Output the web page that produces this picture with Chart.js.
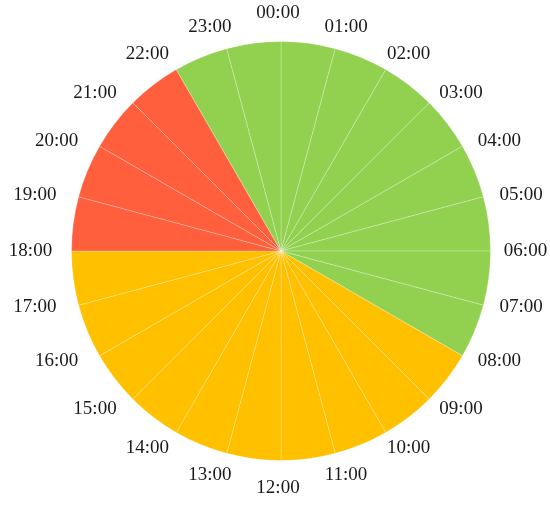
<!DOCTYPE html>
<html>
<head>
<meta charset="utf-8">
<script src="https://cdn.jsdelivr.net/npm/chart.js@4"></script>
<style>
  html,body{margin:0;padding:0;background:#fff;}
  #wrap{width:550px;height:506px;}
</style>
</head>
<body>
<div id="wrap"><canvas id="c"></canvas></div>
<script>
const hours=["00:00","01:00","02:00","03:00","04:00","05:00","06:00","07:00","08:00","09:00","10:00","11:00",
  "12:00","13:00","14:00","15:00","16:00","17:00","18:00","19:00","20:00","21:00","22:00","23:00"];
const values=[1,1,1,1,1,1,1,1,1,1,1,1,1,1,1,1,1,1,1,1,1,1,1,1];
const period=["off","off","off","off","off","off","off","off","mid","mid","mid","mid",
  "mid","mid","mid","mid","mid","mid","peak","peak","peak","peak","off","off"];
const periodColors={off:"#92D050",mid:"#FFC000",peak:"#FF5F3C"};

// labels sit at the start edge of each slice; pushed wider sideways than up/down
const hourLabels={
  id:"hourLabels",
  afterDraw(chart){
    const ctx=chart.ctx;
    ctx.save();
    ctx.font="19px 'Liberation Serif', serif";
    ctx.fillStyle="#1a1a1a";
    ctx.textAlign="center";
    ctx.textBaseline="middle";
    chart.getDatasetMeta(0).data.forEach((arc,i)=>{
      const ux=Math.cos(arc.startAngle), uy=Math.sin(arc.startAngle);
      const R=arc.outerRadius, s2=Math.abs(2*ux*uy);
      const x=arc.x-3+(R+38)*ux+8*s2*Math.sign(ux);
      const y=arc.y+(R+28)*uy-10*s2*Math.sign(uy);
      ctx.fillText(hours[i],x,y);
    });
    ctx.restore();
  }
};

new Chart(document.getElementById("c"),{
  type:"pie",
  data:{labels:hours,datasets:[{data:values,backgroundColor:period.map(p=>periodColors[p]),
    borderColor:"rgba(255,255,255,0.25)",borderWidth:1}]},
  options:{
    responsive:true,maintainAspectRatio:false,animation:false,
    layout:{padding:{left:71,right:59,top:41,bottom:45}},
    plugins:{legend:{display:false},tooltip:{enabled:false}}
  },
  plugins:[hourLabels]
});
</script>
</body>
</html>
